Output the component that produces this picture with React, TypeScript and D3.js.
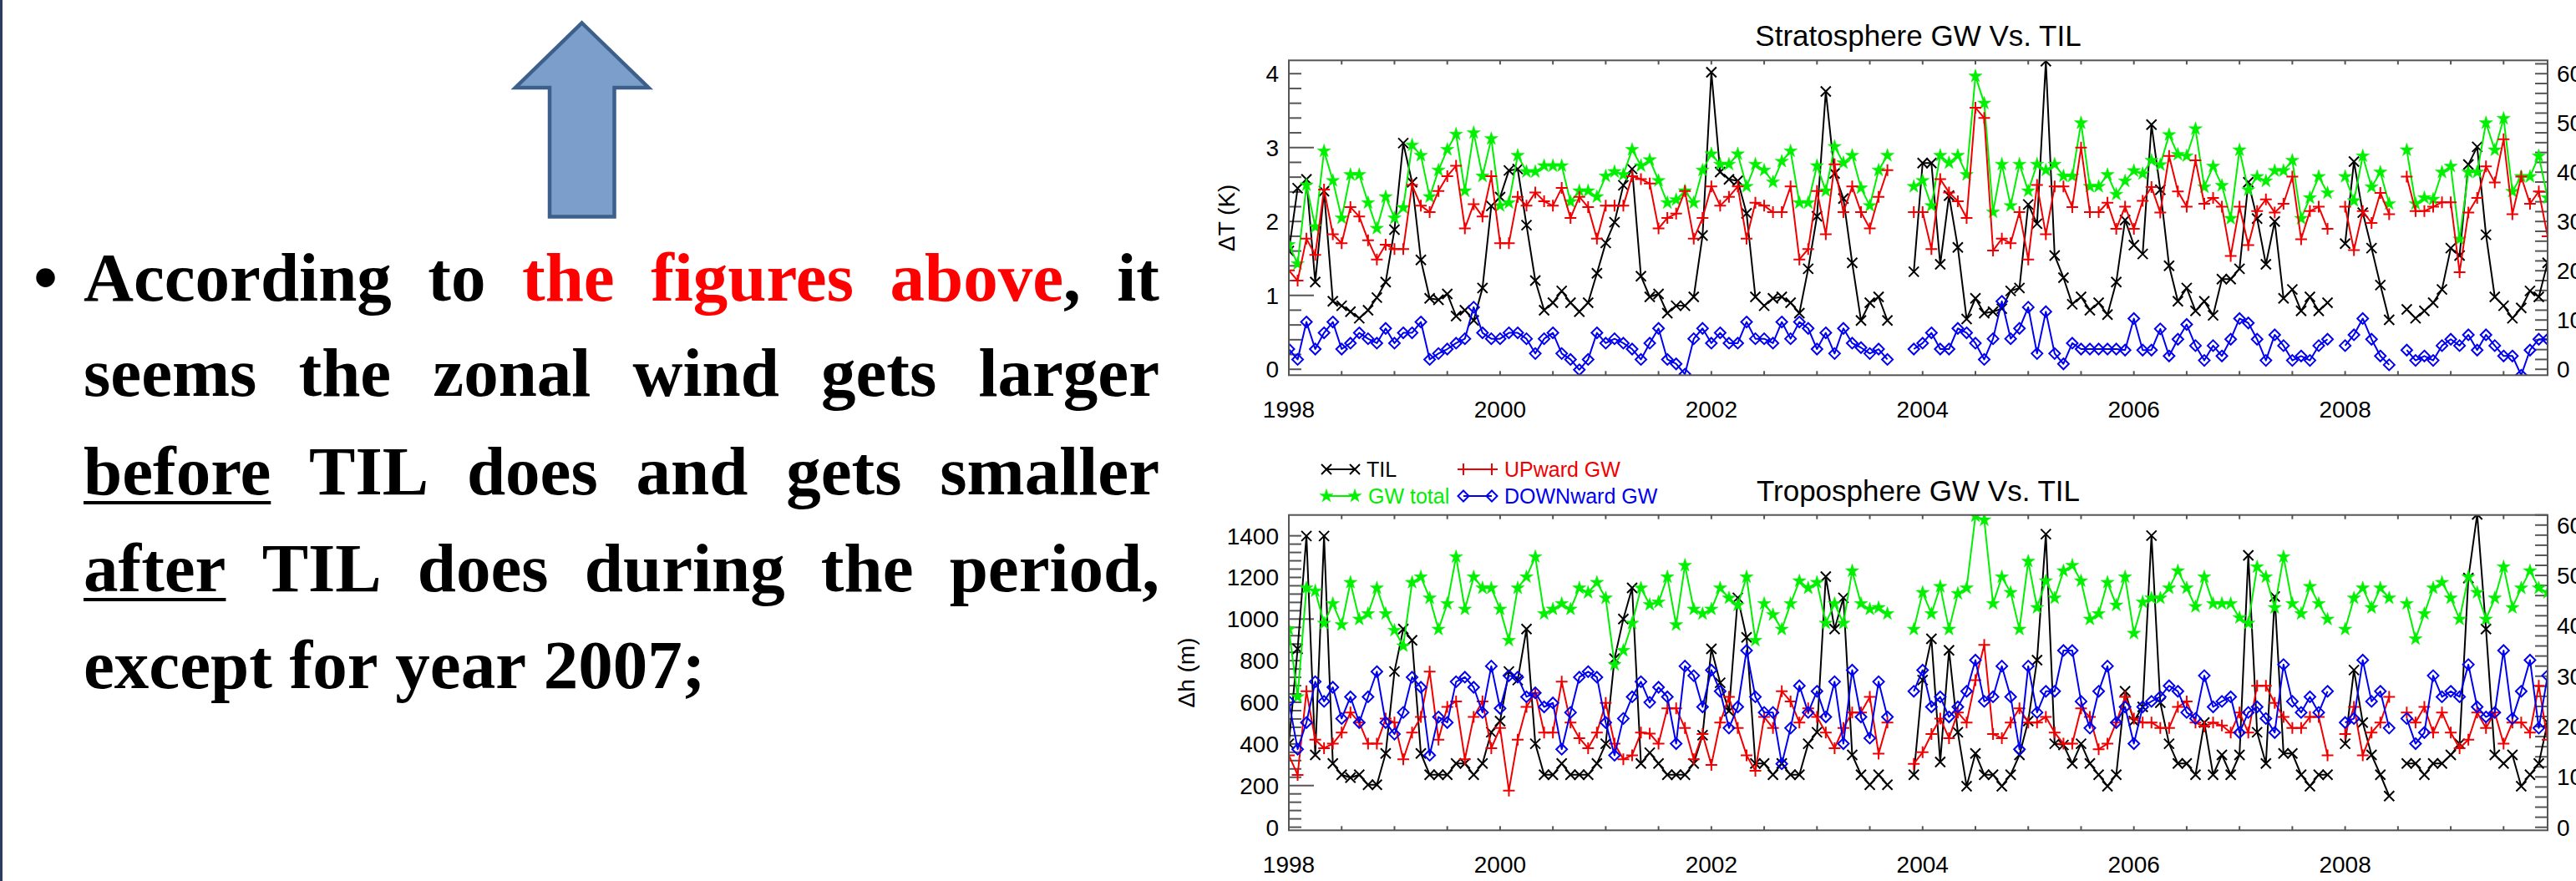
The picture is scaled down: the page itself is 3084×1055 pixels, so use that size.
import React, { useMemo } from 'react';
import * as d3 from 'd3';

// ---------------- data (monthly, index 0 = Jan 1998; null = no data) ----------------
const START_YEAR = 1998;
const yearTicks = [1998, 2000, 2002, 2004, 2006, 2008];
const stratLeftTicks = [0, 1, 2, 3, 4];
const tropLeftTicks = [0, 200, 400, 600, 800, 1000, 1200, 1400];
const rightTicks = [0, 10, 20, 30, 40, 50, 60];

const stratTIL = [
  1.6, 2.45, 2.57, 1.18, 2.41, 0.92, 0.86, 0.78, 0.69, 0.8,
  0.97, 1.18, 1.89, 3.06, 2.53, 1.48, 0.96, 0.94, 1.02, 0.72,
  0.8, 0.66, 1.1, 2.21, 2.33, 2.69, 2.71, 1.95, 1.2, 0.8,
  0.9, 1.06, 0.9, 0.78, 0.9, 1.3, 1.71, 1.99, 2.49, 2.71,
  1.26, 0.98, 1.02, 0.76, 0.86, 0.86, 0.98, 1.81, 4.02, 2.67,
  2.57, 2.55, 2.11, 0.98, 0.86, 0.96, 0.98, 0.9, 0.76, 1.36,
  2.07, 3.76, 2.65, 2.31, 1.44, 0.66, 0.9, 0.98, 0.66, null,
  null, 1.32, 2.79, 2.79, 1.42, 2.35, 1.65, 0.68, 0.96, 0.76,
  0.78, 0.82, 1.06, 1.1, 2.23, 1.97, 4.17, 1.54, 1.24, 0.88,
  0.98, 0.8, 0.9, 0.74, 1.18, 2.02, 1.68, 1.56, 3.31, 2.43,
  1.4, 0.92, 1.1, 0.79, 0.92, 0.73, 1.22, 1.22, 1.36, 2.53,
  2.04, 1.42, 2.0, 0.96, 1.08, 0.79, 0.98, 0.79, 0.9, null,
  1.7, 2.81, 2.12, 1.64, 1.14, 0.67, null, 0.81, 0.69, 0.79,
  0.9, 1.08, 1.64, 1.54, 2.77, 3.01, 1.82, 0.98, 0.86, 0.69,
  0.83, 1.06, 0.98, 1.44,
];
const stratTotal = [
  25.3, 21.4, 37.4, 28.9, 44.3, 38.3, 30.7, 39.5, 39.5, 33.8,
  28.6, 35.0, 30.7, 32.8, 45.5, 43.4, 35.0, 40.4, 44.6, 47.7,
  36.2, 48.0, 39.2, 46.8, 33.2, 33.8, 43.4, 40.1, 40.1, 41.3,
  41.3, 41.3, 34.0, 36.2, 36.2, 35.0, 39.2, 40.1, 39.5, 44.6,
  41.3, 42.5, 38.3, 33.8, 34.4, 36.2, 33.8, 40.4, 43.7, 41.6,
  41.6, 43.7, 37.1, 41.6, 40.4, 38.0, 42.2, 44.3, 33.8, 33.8,
  41.3, 36.2, 45.2, 41.9, 43.4, 36.8, 33.2, 40.4, 43.4, null,
  null, 37.1, 38.3, 33.2, 43.4, 41.9, 43.4, 39.5, 59.5, 54.0,
  31.9, 41.6, 33.2, 41.6, 36.2, 41.6, 40.4, 41.6, 39.2, 39.2,
  50.0, 37.1, 37.1, 39.5, 35.5, 38.2, 40.3, 39.7, 42.4, 41.5,
  47.6, 43.6, 43.3, 48.8, 37.0, 41.2, 37.3, 30.6, 44.5, 36.4,
  39.1, 38.2, 40.3, 40.3, 42.4, 30.6, 34.8, 39.1, 35.8, null,
  39.1, 34.2, 43.3, 37.0, 40.0, 33.6, null, 44.5, 33.6, 34.8,
  34.5, 40.0, 41.2, 26.4, 40.0, 40.0, 50.0, 44.5, 50.9, 36.1,
  39.1, 39.1, 43.3, 34.8,
];
const stratUp = [
  20.1, 18.0, 26.5, 23.2, 36.5, 27.4, 25.6, 32.9, 31.0, 26.2,
  22.3, 25.3, 24.4, 24.4, 37.4, 33.2, 31.9, 36.2, 39.2, 41.3,
  28.6, 33.5, 31.0, 39.2, 25.6, 25.6, 35.0, 33.2, 35.9, 34.1,
  33.2, 36.8, 30.7, 35.0, 32.9, 26.5, 33.2, 33.2, 33.2, 39.2,
  38.6, 37.7, 28.6, 30.7, 31.6, 36.2, 26.5, 30.7, 37.1, 33.2,
  35.0, 37.1, 26.5, 33.8, 33.2, 31.9, 31.9, 37.1, 22.3, 24.4,
  36.2, 27.4, 41.6, 31.9, 37.1, 31.9, 28.6, 35.0, 40.4, null,
  null, 31.9, 31.9, 24.4, 38.6, 35.9, 34.1, 30.7, 53.1, 51.0,
  24.1, 26.5, 25.6, 31.9, 22.3, 37.4, 27.4, 37.1, 37.1, 32.9,
  45.0, 31.9, 31.9, 33.8, 28.5, 33.0, 28.5, 34.2, 37.0, 31.8,
  43.3, 36.1, 33.0, 42.4, 33.6, 34.8, 33.0, 23.0, 33.0, 25.2,
  32.1, 34.5, 31.8, 33.6, 39.1, 26.4, 32.1, 33.0, 28.5, null,
  33.0, 24.2, 32.1, 29.7, 35.8, 31.5, null, 39.1, 32.1, 32.1,
  33.0, 33.9, 33.9, 19.7, 31.8, 34.8, 41.2, 37.9, 46.7, 31.5,
  39.1, 33.6, 36.1, 27.0,
];
const stratDown = [
  4.1, 2.0, 9.6, 4.1, 7.4, 9.6, 4.1, 5.3, 7.4, 6.2,
  5.3, 8.3, 5.3, 7.4, 7.4, 9.6, 2.0, 3.2, 4.1, 5.3,
  6.2, 12.6, 7.4, 6.2, 6.2, 7.4, 7.4, 6.2, 3.2, 6.2,
  7.4, 3.2, 2.0, -0.1, 2.0, 7.4, 5.3, 6.2, 5.3, 4.1,
  2.0, 5.3, 8.3, 2.0, 1.1, -1.0, 6.2, 8.3, 5.3, 7.4,
  5.3, 5.3, 9.6, 6.2, 6.2, 5.3, 9.6, 6.2, 9.6, 8.3,
  4.1, 7.4, 3.2, 8.3, 5.3, 4.4, 3.2, 4.1, 2.0, null,
  null, 4.1, 5.3, 7.4, 4.1, 4.1, 8.3, 7.4, 5.3, 2.0,
  6.2, 13.8, 6.2, 8.3, 12.6, 3.2, 11.7, 3.2, 1.1, 5.3,
  4.1, 4.1, 4.1, 4.1, 4.1, 3.9, 10.3, 3.9, 3.9, 8.2,
  2.7, 6.1, 9.1, 4.8, 1.8, 4.8, 2.7, 6.1, 10.3, 9.4,
  6.1, 1.8, 7.0, 4.8, 1.8, 2.7, 1.8, 4.8, 6.1, null,
  4.8, 7.0, 10.3, 6.1, 2.7, 0.9, null, 3.9, 1.8, 2.7,
  1.8, 4.8, 6.1, 4.8, 7.0, 3.9, 7.0, 4.8, 2.7, 2.7,
  -1.2, 3.9, 6.1, 6.1,
];

const tropTIL = [
  401, 857, 1399, 347, 1399, 306, 252, 238, 252, 204,
  204, 354, 748, 952, 898, 354, 252, 252, 252, 306,
  306, 252, 306, 456, 510, 748, 707, 952, 401, 252,
  252, 306, 252, 252, 252, 306, 401, 810, 1000, 1150,
  306, 358, 306, 252, 252, 252, 306, 442, 857, 694,
  558, 1102, 912, 306, 306, 252, 306, 252, 252, 401,
  456, 1204, 952, 1102, 347, 252, 204, 252, 204, null,
  null, 252, 707, 905, 313, 850, 456, 197, 354, 252,
  252, 197, 252, 347, 510, 803, 1408, 401, 395, 306,
  401, 306, 252, 197, 252, 653, 510, 578, 1401, 598,
  401, 306, 306, 252, 503, 252, 347, 252, 347, 1306,
  456, 306, 1108, 354, 354, 252, 197, 252, 252, null,
  401, 755, 503, 347, 252, 150, null, 306, 306, 252,
  306, 306, 347, 401, 1197, 1503, 952, 347, 306, 347,
  197, 252, 306, 503,
];
const tropTotal = [
  39.3, 25.9, 47.5, 46.9, 40.5, 44.4, 40.2, 48.6, 41.3, 42.4,
  47.5, 42.4, 39.1, 36.0, 48.6, 49.7, 45.5, 39.3, 44.4, 53.7,
  43.3, 49.7, 47.5, 47.5, 43.3, 37.1, 47.5, 49.7, 53.7, 42.4,
  43.3, 44.4, 43.3, 47.5, 46.6, 48.6, 45.5, 32.3, 35.1, 40.5,
  47.5, 44.2, 44.7, 49.7, 40.2, 52.0, 43.3, 42.4, 43.3, 47.5,
  45.5, 44.1, 49.7, 37.1, 44.4, 42.2, 39.3, 44.4, 48.9, 47.5,
  48.6, 40.5, 44.4, 40.5, 50.9, 44.4, 43.3, 43.6, 42.4, null,
  null, 39.3, 46.6, 42.4, 47.8, 39.3, 46.4, 47.5, 61.8, 61.0,
  44.4, 49.7, 46.6, 39.3, 52.8, 43.6, 48.9, 45.5, 50.9, 52.0,
  48.9, 41.3, 42.4, 48.6, 44.1, 49.7, 38.5, 44.7, 45.5, 45.5,
  47.5, 50.9, 47.5, 43.8, 49.7, 44.4, 44.4, 44.4, 41.6, 40.5,
  51.7, 49.7, 43.6, 53.7, 44.4, 42.4, 47.8, 44.4, 41.3, null,
  39.3, 45.5, 47.5, 43.6, 47.5, 45.5, null, 44.4, 37.4, 42.4,
  47.5, 48.6, 45.5, 41.3, 49.7, 46.6, 41.3, 45.5, 51.7, 43.6,
  47.5, 50.9, 47.5, 46.6,
];
const tropUp = [
  14.3, 10.4, 27.0, 17.4, 15.7, 16.6, 18.8, 22.8, 20.8, 16.6,
  16.6, 21.6, 20.8, 13.5, 18.8, 21.9, 30.9, 17.4, 23.9, 25.0,
  13.5, 21.9, 25.0, 15.7, 19.7, 7.3, 17.4, 23.9, 26.7, 18.8,
  18.8, 28.9, 20.8, 17.7, 15.7, 18.8, 24.7, 16.6, 13.5, 14.3,
  18.8, 18.6, 16.6, 23.6, 23.6, 19.7, 13.5, 18.5, 12.4, 20.8,
  25.9, 19.7, 14.3, 11.2, 21.9, 19.7, 27.0, 25.0, 20.8, 23.6,
  21.9, 18.8, 15.7, 19.7, 22.8, 22.8, 25.9, 14.6, 20.8, null,
  null, 12.6, 14.9, 18.5, 21.6, 17.7, 22.8, 20.8, 29.2, 36.2,
  18.5, 17.7, 20.8, 23.6, 20.8, 20.8, 21.9, 18.8, 16.6, 16.6,
  23.6, 21.9, 15.5, 16.6, 20.8, 25.9, 21.6, 20.8, 20.8, 19.7,
  19.7, 23.9, 25.0, 20.8, 20.0, 20.8, 20.2, 18.8, 22.8, 18.8,
  28.1, 28.1, 24.7, 21.9, 19.7, 19.7, 21.9, 21.9, 14.3, null,
  18.5, 23.9, 14.3, 18.8, 20.8, 25.9, null, 22.8, 20.8, 23.9,
  18.8, 22.8, 18.8, 15.7, 17.4, 22.8, 19.7, 22.8, 16.6, 20.8,
  20.8, 18.8, 28.1, 17.4,
];
const tropDown = [
  25.0, 15.5, 20.8, 28.9, 25.0, 27.8, 21.6, 25.9, 20.8, 25.9,
  30.9, 20.8, 18.5, 22.8, 29.8, 27.8, 14.3, 21.9, 20.8, 28.9,
  29.8, 27.8, 22.8, 32.0, 23.6, 30.1, 29.8, 25.9, 26.7, 23.9,
  24.7, 15.5, 22.8, 29.8, 30.9, 29.8, 20.8, 14.3, 21.6, 25.9,
  28.9, 24.8, 27.8, 25.9, 16.6, 32.0, 30.1, 23.9, 31.2, 27.0,
  19.7, 23.9, 35.1, 25.9, 22.8, 22.8, 12.6, 19.7, 28.1, 22.8,
  27.0, 21.9, 28.9, 16.6, 31.2, 21.9, 17.7, 28.9, 21.9, null,
  null, 27.0, 31.2, 23.9, 25.9, 21.9, 23.9, 27.0, 33.2, 25.0,
  25.9, 32.0, 25.9, 15.5, 32.0, 22.8, 27.0, 27.0, 35.1, 35.1,
  25.0, 19.7, 27.0, 32.0, 20.8, 23.9, 16.6, 23.9, 25.0, 25.9,
  28.1, 27.0, 22.8, 21.6, 30.1, 23.9, 25.0, 25.9, 18.8, 22.8,
  23.9, 21.6, 18.8, 32.3, 25.0, 22.8, 25.9, 22.8, 27.0, null,
  20.8, 21.6, 33.2, 25.0, 27.0, 19.7, null, 21.6, 16.6, 18.8,
  30.1, 25.9, 27.0, 25.9, 32.3, 23.9, 21.9, 22.8, 35.1, 21.6,
  27.0, 33.2, 19.7, 30.1,
];

// ---------------- styling / layout ----------------
const W = 3084;
const H = 1055;
const SANS = "'Liberation Sans', Arial, Helvetica, sans-serif";
const SERIF = "'Liberation Serif', 'Times New Roman', serif";
const C_TIL = '#000000';
const C_UP = '#f00000';
const C_TOT = '#00f000';
const C_DOWN = '#0000f0';
const RED_TEXT = '#ff0000';
const FRAME = '#555555';

const X0 = 1543;
const X1 = 3050;
const nMonths = stratTIL.length;
const xScale = d3.scaleLinear().domain([START_YEAR, START_YEAR + (nMonths - 1) / 12]).range([X0, X1]);

const markerPath: Record<string, string> = {
  x: 'M-6,-6L6,6M-6,6L6,-6',
  plus: 'M-7,0L7,0M0,-7L0,7',
  diamond: 'M0,-6.5L6.5,0L0,6.5L-6.5,0Z',
  star: d3.symbol(d3.symbolStar, 80)() as string,
};

function Marker({ kind, x, y, color }: { kind: string; x: number; y: number; color: string }) {
  const filled = kind === 'star';
  return (
    <path
      d={markerPath[kind]}
      transform={`translate(${x},${y})`}
      fill={filled ? color : 'none'}
      stroke={color}
      strokeWidth={filled ? 0.5 : 2}
    />
  );
}

type PanelCfg = {
  id: string;
  title: string;
  titleY: number;
  top: number;
  bottom: number;
  yTitle: string;
  yTitleX: number;
  leftDomain: [number, number];
  leftTicks: number[];
  leftMinorStep: number;
  leftLong: number[];
  rightDomain: [number, number];
  til: (number | null)[];
  total: (number | null)[];
  up: (number | null)[];
  down: (number | null)[];
};

const panels: PanelCfg[] = [
  {
    id: 'strat',
    title: 'Stratosphere GW Vs. TIL',
    titleY: 55,
    top: 72.3,
    bottom: 449.3,
    yTitle: 'ΔT (K)',
    yTitleX: 1478,
    leftDomain: [-0.08, 4.18],
    leftTicks: stratLeftTicks,
    leftMinorStep: 0.2,
    leftLong: [1, 3],
    rightDomain: [-1.2, 62.7],
    til: stratTIL,
    total: stratTotal,
    up: stratUp,
    down: stratDown,
  },
  {
    id: 'trop',
    title: 'Troposphere GW Vs. TIL',
    titleY: 600,
    top: 616.7,
    bottom: 994.3,
    yTitle: 'Δh (m)',
    yTitleX: 1430,
    leftDomain: [-15, 1500],
    leftTicks: tropLeftTicks,
    leftMinorStep: 40,
    leftLong: [200, 1000],
    rightDomain: [-0.6, 62],
    til: tropTIL,
    total: tropTotal,
    up: tropUp,
    down: tropDown,
  },
];

function Series({ data, y, color, kind }: { data: (number | null)[]; y: d3.ScaleLinear<number, number>; color: string; kind: string }) {
  const line = d3
    .line<number | null>()
    .defined((d) => d !== null)
    .x((_, i) => xScale(START_YEAR + i / 12))
    .y((d) => y(d as number));
  return (
    <g>
      <path d={line(data) || ''} fill="none" stroke={color} strokeWidth={2} strokeLinejoin="round" />
      {data.map((d, i) =>
        d === null ? null : <Marker key={i} kind={kind} x={xScale(START_YEAR + i / 12)} y={y(d)} color={color} />
      )}
    </g>
  );
}

function Panel({ cfg }: { cfg: PanelCfg }) {
  const yL = d3.scaleLinear().domain(cfg.leftDomain).range([cfg.bottom, cfg.top]);
  const yR = d3.scaleLinear().domain(cfg.rightDomain).range([cfg.bottom, cfg.top]);
  const leftMax = cfg.leftTicks[cfg.leftTicks.length - 1];
  const leftMinor = d3.range(0, leftMax + cfg.leftMinorStep * 0.5 + 1e-9, cfg.leftMinorStep).filter((v) => yL(v) >= cfg.top);
  const rightMinor = d3.range(0, 62.01, 2).filter((v) => yR(v) >= cfg.top);
  const halfYears = d3.range(START_YEAR, START_YEAR + 12, 0.5).filter((v) => xScale(v) <= X1 + 0.5);
  const clipId = `clip-${cfg.id}`;
  const midY = (cfg.top + cfg.bottom) / 2;
  return (
    <g fontFamily={SANS}>
      <defs>
        <clipPath id={clipId}>
          <rect x={X0} y={cfg.top} width={X1 - X0} height={cfg.bottom - cfg.top} />
        </clipPath>
      </defs>
      <text x={(X0 + X1) / 2} y={cfg.titleY} fontSize={35} textAnchor="middle" fill="#000">
        {cfg.title}
      </text>
      {halfYears.map((v) => (
        <g key={v}>
          <line x1={xScale(v)} x2={xScale(v)} y1={cfg.bottom} y2={cfg.bottom - 5} stroke={FRAME} strokeWidth={2} />
          <line x1={xScale(v)} x2={xScale(v)} y1={cfg.top} y2={cfg.top + 5} stroke={FRAME} strokeWidth={2} />
        </g>
      ))}
      {yearTicks.map((v) => (
        <text key={v} x={xScale(v)} y={cfg.bottom + 51} fontSize={28} textAnchor="middle" fill="#000">
          {v}
        </text>
      ))}
      {leftMinor.map((v) => (
        <line
          key={v}
          x1={X0}
          x2={X0 + (cfg.leftLong.some((l) => Math.abs(l - v) < 1e-6) ? 30 : 15)}
          y1={yL(v)}
          y2={yL(v)}
          stroke={FRAME}
          strokeWidth={2}
        />
      ))}
      {cfg.leftTicks.map((v) => (
        <text key={v} x={X0 - 12} y={yL(v) + 10} fontSize={28} textAnchor="end" fill="#000">
          {v}
        </text>
      ))}
      <text transform={`translate(${cfg.yTitleX},${midY}) rotate(-90)`} fontSize={28} textAnchor="middle" fill="#000">
        {cfg.yTitle}
      </text>
      {rightMinor.map((v) => (
        <line key={v} x1={X1} x2={X1 - 15} y1={yR(v)} y2={yR(v)} stroke={FRAME} strokeWidth={2} />
      ))}
      {rightTicks.map((v) => (
        <text key={v} x={X1 + 11} y={yR(v) + 10} fontSize={28} textAnchor="start" fill="#000">
          {v}
        </text>
      ))}
      <g clipPath={`url(#${clipId})`}>
        <Series data={cfg.til} y={yL} color={C_TIL} kind="x" />
        <Series data={cfg.total} y={yR} color={C_TOT} kind="star" />
        <Series data={cfg.up} y={yR} color={C_UP} kind="plus" />
        <Series data={cfg.down} y={yR} color={C_DOWN} kind="diamond" />
      </g>
      <rect x={X0} y={cfg.top} width={X1 - X0} height={cfg.bottom - cfg.top} fill="none" stroke={FRAME} strokeWidth={2} />
    </g>
  );
}

const legendItems = [
  { label: 'TIL', color: C_TIL, kind: 'x', x1: 1588, x2: 1622, tx: 1636, y: 562 },
  { label: 'UPward GW', color: C_UP, kind: 'plus', x1: 1752, x2: 1786, tx: 1801, y: 562 },
  { label: 'GW total', color: C_TOT, kind: 'star', x1: 1588, x2: 1622, tx: 1638, y: 594 },
  { label: 'DOWNward GW', color: C_DOWN, kind: 'diamond', x1: 1752, x2: 1786, tx: 1801, y: 594 },
];

type Seg = { t: string; c?: string };
type Word = { segs: Seg[]; u?: boolean };
const plain = (s: string): Word[] => s.split(' ').map((t) => ({ segs: [{ t }] }));
const bodyLines: { words: Word[]; justify: boolean }[] = [
  {
    justify: true,
    words: [
      { segs: [{ t: 'According' }] },
      { segs: [{ t: 'to' }] },
      { segs: [{ t: 'the', c: RED_TEXT }] },
      { segs: [{ t: 'figures', c: RED_TEXT }] },
      { segs: [{ t: 'above', c: RED_TEXT }, { t: ',' }] },
      { segs: [{ t: 'it' }] },
    ],
  },
  { justify: true, words: plain('seems the zonal wind gets larger') },
  { justify: true, words: [{ segs: [{ t: 'before' }], u: true }, ...plain('TIL does and gets smaller')] },
  { justify: true, words: [{ segs: [{ t: 'after' }], u: true }, ...plain('TIL does during the period,')] },
  { justify: false, words: plain('except for year 2007;') },
];
const BODY_SIZE = 83;
const BODY_LEFT = 100;
const BODY_RIGHT = 1388;
const bodyBaselines = [360, 474, 592, 708, 824];

let measureCanvas: HTMLCanvasElement | null = null;
function measure(text: string): number {
  if (!measureCanvas) measureCanvas = document.createElement('canvas');
  const ctx = measureCanvas.getContext('2d') as CanvasRenderingContext2D;
  ctx.font = `bold ${BODY_SIZE}px 'Liberation Serif'`;
  return ctx.measureText(text).width;
}

function SlideText() {
  const laid = useMemo(
    () =>
      bodyLines.map((line) => {
        const widths = line.words.map((w) => measure(w.segs.map((s) => s.t).join('')));
        const total = widths.reduce((a, b) => a + b, 0);
        const gap = line.justify ? (BODY_RIGHT - BODY_LEFT - total) / (line.words.length - 1) : measure(' ');
        let x = BODY_LEFT;
        return line.words.map((w, i) => {
          const pos = { w, x, width: widths[i] };
          x += widths[i] + gap;
          return pos;
        });
      }),
    []
  );
  return (
    <g fontFamily={SERIF} fontWeight="bold" fontSize={BODY_SIZE}>
      <text x={40} y={360} fontFamily={SANS} fontWeight="normal">
        •
      </text>
      {laid.map((line, li) =>
        line.map((p, wi) => (
          <g key={`${li}-${wi}`}>
            <text x={p.x} y={bodyBaselines[li]}>
              {p.w.segs.map((s, si) => (
                <tspan key={si} fill={s.c || '#000'}>
                  {s.t}
                </tspan>
              ))}
            </text>
            {p.w.u ? <rect x={p.x} y={bodyBaselines[li] + 8} width={p.width} height={4} fill="#000" /> : null}
          </g>
        ))
      )}
    </g>
  );
}

export default function App() {
  return (
    <div style={{ position: 'absolute', left: 0, top: 0, width: W, height: H, overflow: 'hidden', background: '#fff' }}>
      <svg width={W} height={H} viewBox={`0 0 ${W} ${H}`} style={{ display: 'block' }}>
        <rect x={0} y={0} width={W} height={H} fill="#fff" />
        <rect x={0} y={0} width={3} height={H} fill="#2a3b66" />
        <polygon
          points="696.7,27.5 776.5,105 735.5,105 735.5,259.5 658,259.5 658,105 617,105"
          fill="#7b9ecb"
          stroke="#3d5f8c"
          strokeWidth={4.5}
          strokeLinejoin="miter"
        />
        <SlideText />
        {panels.map((p) => (
          <Panel key={p.id} cfg={p} />
        ))}
        <g fontFamily={SANS} fontSize={25}>
          {legendItems.map((it) => (
            <g key={it.label}>
              <line x1={it.x1} x2={it.x2} y1={it.y} y2={it.y} stroke={it.color} strokeWidth={2} />
              <Marker kind={it.kind} x={it.x1} y={it.y} color={it.color} />
              <Marker kind={it.kind} x={it.x2} y={it.y} color={it.color} />
              <text x={it.tx} y={it.y + 9} fill={it.color}>
                {it.label}
              </text>
            </g>
          ))}
        </g>
      </svg>
    </div>
  );
}
